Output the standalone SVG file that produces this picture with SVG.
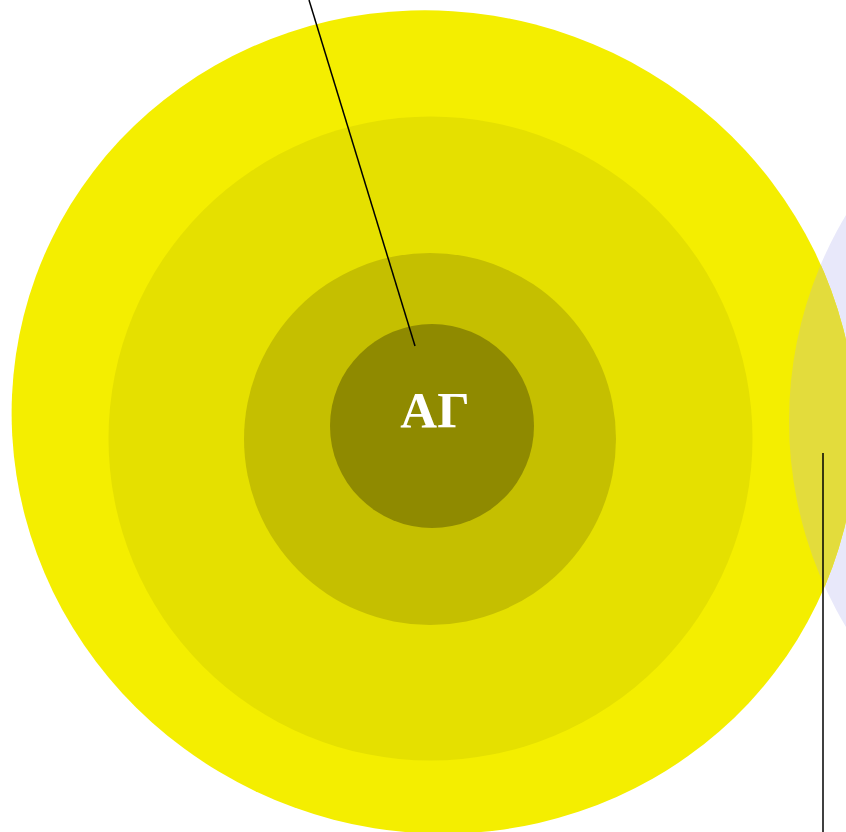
<svg xmlns="http://www.w3.org/2000/svg" width="846" height="832" viewBox="0 0 846 832">
<style>
.lbl{font-family:"Liberation Serif","Times New Roman",serif;font-weight:bold;fill:#ffffff;text-anchor:middle}
.conn{stroke:#000000;stroke-width:1.5;fill:none}
</style>
<defs>
<clipPath id="lavClip"><circle cx="1190" cy="421" r="401"/></clipPath>
</defs>
<rect width="846" height="832" fill="#ffffff"/>
<g id="node-lavender">
<circle cx="1190" cy="421" r="401" fill="#e8e8fa"/>
</g>
<g id="node-outer">
<ellipse cx="0" cy="0" rx="424" ry="410" transform="translate(434 422) rotate(20)" fill="#f4ee00"/>
<g clip-path="url(#lavClip)">
<ellipse cx="0" cy="0" rx="424" ry="410" transform="translate(434 422) rotate(20)" fill="#e3dc3c"/>
</g>
</g>
<g id="node-ring2">
<circle cx="430.5" cy="438.5" r="322" fill="#e5e000"/>
</g>
<g id="node-ring3">
<circle cx="430" cy="439" r="186" fill="#c5bf00"/>
</g>
<g id="node-core">
<circle cx="432" cy="426" r="102" fill="#8f8a00"/>
<text class="lbl" x="435" y="427" font-size="51">ΑΓ</text>
</g>
<g id="connectors">
<line class="conn" x1="309" y1="0" x2="415" y2="346"/>
<line class="conn" x1="823" y1="453" x2="823" y2="832"/>
</g>
</svg>
